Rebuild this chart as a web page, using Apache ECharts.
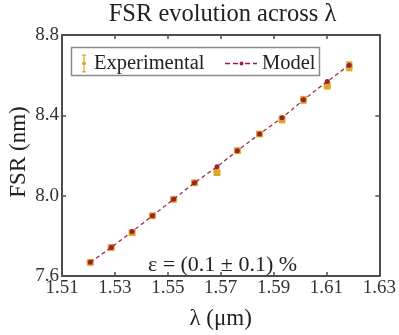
<!DOCTYPE html>
<html><head><meta charset="utf-8">
<script src="https://cdn.jsdelivr.net/npm/echarts@6/dist/echarts.min.js"></script>
<style>html,body{margin:0;padding:0;background:#fff}#c{width:399px;height:335px}</style>
</head><body><div id="c"></div>
<script>
const wavelength = [1.5207, 1.5286, 1.5365, 1.5442, 1.5522, 1.5601, 1.5686, 1.5763, 1.5847, 1.5932, 1.6013, 1.6103, 1.6186];
const fsrExperimental = [7.668, 7.742, 7.816, 7.900, 7.982, 8.064, 8.115, 8.224, 8.307, 8.380, 8.477, 8.548, 8.644];
const fsrError = [0.012, 0.012, 0.012, 0.012, 0.012, 0.012, 0.012, 0.012, 0.012, 0.015, 0.015, 0.015, 0.02];
const fsrModel = [7.668, 7.742, 7.821, 7.900, 7.982, 8.064, 8.144, 8.224, 8.307, 8.388, 8.477, 8.569, 8.650];
const xTicks = [1.51, 1.53, 1.55, 1.57, 1.59, 1.61, 1.63];
const yTicks = [7.6, 8.0, 8.4, 8.8];

const FONT = '"Liberation Serif", "Times New Roman", serif';
const GOLD = '#DDA52A';
const RED = '#9E1F35';
const AX = '#4d4d4d';

const chart = echarts.init(document.getElementById('c'), null, {renderer: 'canvas'});
const errData = wavelength.map((x, i) => [x, fsrExperimental[i] - fsrError[i], fsrExperimental[i] + fsrError[i]]);
const modelData = wavelength.map((x, i) => [x, fsrModel[i]]);

const xAxisBase = {
  type: 'value', min: xTicks[0], max: xTicks[xTicks.length - 1], interval: 0.02,
  axisLine: {show: true, onZero: false, lineStyle: {color: AX, width: 2}},
  axisTick: {show: true, inside: true, length: 4, lineStyle: {color: AX, width: 1.5}},
  splitLine: {show: false}
};
const yAxisBase = {
  type: 'value', min: yTicks[0], max: yTicks[yTicks.length - 1], interval: 0.4,
  axisLine: {show: true, onZero: false, lineStyle: {color: AX, width: 2}},
  axisTick: {show: true, inside: true, length: 4, lineStyle: {color: AX, width: 1.5}},
  splitLine: {show: false}
};

const expIcon = 'path://M0,0 L4,0 L4,1.2 L2.6,1.2 L2.6,7.6 A1.3,1.3 0 0 1 2.6,10.4 L2.6,16.8 L4,16.8 L4,18 L0,18 L0,16.8 L1.4,16.8 L1.4,10.4 A1.3,1.3 0 0 1 1.4,7.6 L1.4,1.2 L0,1.2 Z';
const modelIcon = 'path://M0,1.35 L5,1.35 L5,2.65 L0,2.65 Z M8,1.35 L13,1.35 L13,2.65 L8,2.65 Z M14.5,2 A2,2 0 1 1 18.5,2 A2,2 0 1 1 14.5,2 Z M20,1.35 L25,1.35 L25,2.65 L20,2.65 Z M28,1.35 L32,1.35 L32,2.65 L28,2.65 Z';

const legendText = {fontFamily: FONT, fontSize: 20.5, color: '#222'};

chart.setOption({
  animation: false,
  grid: {left: 62, right: 16, top: 35, bottom: 51.5},
  legend: [
    {
      left: 82, top: 53, padding: 0, itemWidth: 10, itemHeight: 18, itemGap: 0,
      textStyle: legendText,
      data: [{name: 'Experimental', icon: expIcon, itemStyle: {color: GOLD, borderWidth: 0}}]
    },
    {
      left: 225, top: 53, padding: 0, itemWidth: 32, itemHeight: 18, itemGap: 0,
      textStyle: legendText,
      data: [{name: 'Model', icon: modelIcon, itemStyle: {color: RED, borderWidth: 0}, lineStyle: {width: 0}}]
    }
  ],
  xAxis: [
    Object.assign({}, xAxisBase, {
      position: 'bottom',
      name: 'λ (μm)', nameLocation: 'middle', nameGap: 31,
      nameTextStyle: {fontFamily: FONT, fontSize: 23, color: '#222'},
      axisLabel: {fontFamily: FONT, fontSize: 19, color: '#333', margin: 3, formatter: v => v.toFixed(2)}
    }),
    Object.assign({}, xAxisBase, {position: 'top', axisLabel: {show: false}})
  ],
  yAxis: [
    Object.assign({}, yAxisBase, {
      position: 'left',
      axisLabel: {fontFamily: FONT, fontSize: 19, color: '#333', margin: 3, formatter: v => v.toFixed(1)}
    }),
    Object.assign({}, yAxisBase, {position: 'right', axisLabel: {show: false}})
  ],
  series: [
    {
      name: 'Model', type: 'line', data: modelData,
      symbol: 'circle', symbolSize: 5,
      lineStyle: {color: RED, width: 1.2, type: [4, 3]},
      itemStyle: {color: RED}, z: 3
    },
    {
      name: 'Experimental', type: 'custom', data: errData,
      renderItem: (params, api) => {
        const x = api.value(0);
        const lo = api.coord([x, api.value(1)]);
        const hi = api.coord([x, api.value(2)]);
        const c = api.coord([x, (api.value(1) + api.value(2)) / 2]);
        const cw = 3;
        return {
          type: 'group',
          children: [
            {type: 'line', shape: {x1: lo[0], y1: lo[1], x2: hi[0], y2: hi[1]}, style: {stroke: GOLD, lineWidth: 2}},
            {type: 'line', shape: {x1: lo[0] - cw, y1: lo[1], x2: lo[0] + cw, y2: lo[1]}, style: {stroke: GOLD, lineWidth: 2}},
            {type: 'line', shape: {x1: hi[0] - cw, y1: hi[1], x2: hi[0] + cw, y2: hi[1]}, style: {stroke: GOLD, lineWidth: 2}},
            {type: 'rect', shape: {x: c[0] - 3.5, y: c[1] - 3, width: 7, height: 6}, style: {fill: GOLD}}
          ]
        };
      },
      itemStyle: {color: GOLD}, z: 2
    }
  ],
  graphic: [
    {
      type: 'text', x: 222.5, y: 15,
      style: {text: 'FSR evolution across λ', fontFamily: FONT, fontSize: 24.5, fill: '#222', align: 'center', verticalAlign: 'middle'}
    },
    {
      type: 'text', x: 19, y: 152, rotation: Math.PI / 2,
      style: {text: 'FSR (nm)', fontFamily: FONT, fontSize: 23, fill: '#222', align: 'center', verticalAlign: 'middle'}
    },
    {
      type: 'rect', shape: {x: 71.5, y: 47.5, width: 248, height: 28},
      style: {fill: 'rgba(0,0,0,0)', stroke: '#8a8a8a', lineWidth: 1.5}, z: 10
    },
    {
      type: 'text', x: 222.5, y: 265,
      style: {text: 'ε = (0.1 ± 0.1) %', fontFamily: FONT, fontSize: 22, fill: '#222', align: 'center', verticalAlign: 'middle'}
    }
  ]
});
</script></body></html>
